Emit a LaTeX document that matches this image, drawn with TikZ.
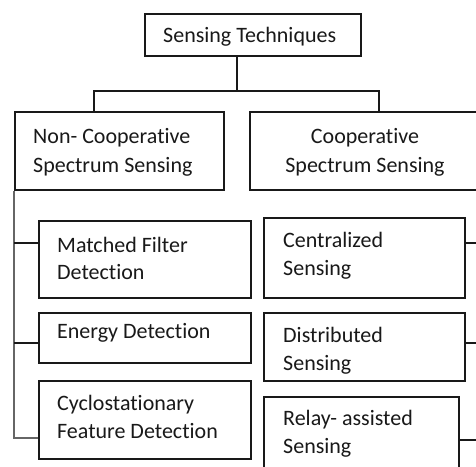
\documentclass[tikz,border=0pt]{standalone}
\usepackage{fontspec}
\setmainfont{Carlito}[RawFeature=-liga]
\begin{document}
\begin{tikzpicture}[x=1pt,y=-1pt,
  box/.style={draw=black!90,line width=1.3pt,inner sep=0pt,rectangle},
  lbl/.style={anchor=base west,inner sep=0pt,font=\fontsize{22}{28}\selectfont,text=black!90},
  clbl/.style={lbl,anchor=base},
  wire/.style={draw=black!90,line width=1.3pt},
  spine/.style={draw=black!60,line width=1.8pt}]
\useasboundingbox (0,0) rectangle (476,466);
\clip (0,0) rectangle (476,466);
\fill[white] (0,0) rectangle (476,466);

% boxes
\node[box,minimum width=216pt,minimum height=42pt] (top) at (253,35) {};
\node[box,minimum width=209pt,minimum height=78pt] (noncoop) at (119.5,151) {};
\node[box,minimum width=230pt,minimum height=78pt] (coop) at (365,151) {};
\node[box,minimum width=212pt,minimum height=77pt] (mf) at (145,259.5) {};
\node[box,minimum width=212pt,minimum height=50pt] (ed) at (145,338) {};
\node[box,minimum width=212pt,minimum height=78pt] (cf) at (145,420) {};
\node[box,minimum width=201pt,minimum height=80pt] (cen) at (364.5,258) {};
\node[box,minimum width=201pt,minimum height=68pt] (dis) at (364.5,347) {};
\node[box,minimum width=195pt,minimum height=83pt] (rel) at (361.5,438.5) {};

% labels
\node[lbl] (t1) at (163,42) {Sensing Techniques};
\node[lbl] (nc1) at (33,143) {Non- Cooperative};
\node[lbl] (nc2) at (33,172) {Spectrum Sensing};
\node[clbl] (co1) at (365,143) {Cooperative};
\node[clbl] (co2) at (365,172) {Spectrum Sensing};
\node[lbl] (mf1) at (57,252) {Matched Filter};
\node[lbl] (mf2) at (57,279) {Detection};
\node[lbl] (ed1) at (57,338) {Energy Detection};
\node[lbl] (cf1) at (57,410) {Cyclostationary};
\node[lbl] (cf2) at (57,438) {Feature Detection};
\node[lbl] (ce1) at (283,247) {Centralized};
\node[lbl] (ce2) at (283,275) {Sensing};
\node[lbl] (di1) at (283,342) {Distributed};
\node[lbl] (di2) at (283,370) {Sensing};
\node[lbl] (re1) at (283,425) {Relay- assisted};
\node[lbl] (re2) at (283,453) {Sensing};

% tree below the root
\coordinate (fork) at (237,91);
\coordinate (jl) at (94,91);
\coordinate (jr) at (379,91);
\draw[wire] (fork |- top.south) -- (fork);
\draw[wire] (jl |- noncoop.north) -- (jl) -- (jr) -- (jr |- coop.north);

% attachment points on the child boxes
\path (mf.west) ++(0,-16.5) coordinate (mfin);
\path (ed.west) ++(0,5) coordinate (edin);
\path (cf.west) ++(0,18) coordinate (cfin);
\path (cen.east) ++(0,-15) coordinate (cenout);
\path (dis.east) ++(0,-4) coordinate (disout);
\path (rel.east) ++(0,1.5) coordinate (relout);

% non-cooperative branch
\draw[spine] (noncoop.south west) |- (cfin);
\draw[wire] (noncoop.south west |- mfin) -- (mfin);
\draw[wire] (noncoop.south west |- edin) -- (edin);

% cooperative branch
\coordinate (rs) at (482,0);
\draw[wire] (cenout) -- (cenout -| rs);
\draw[wire] (disout) -- (disout -| rs);
\draw[wire] (relout) -- (relout -| rs);
\end{tikzpicture}
\end{document}
